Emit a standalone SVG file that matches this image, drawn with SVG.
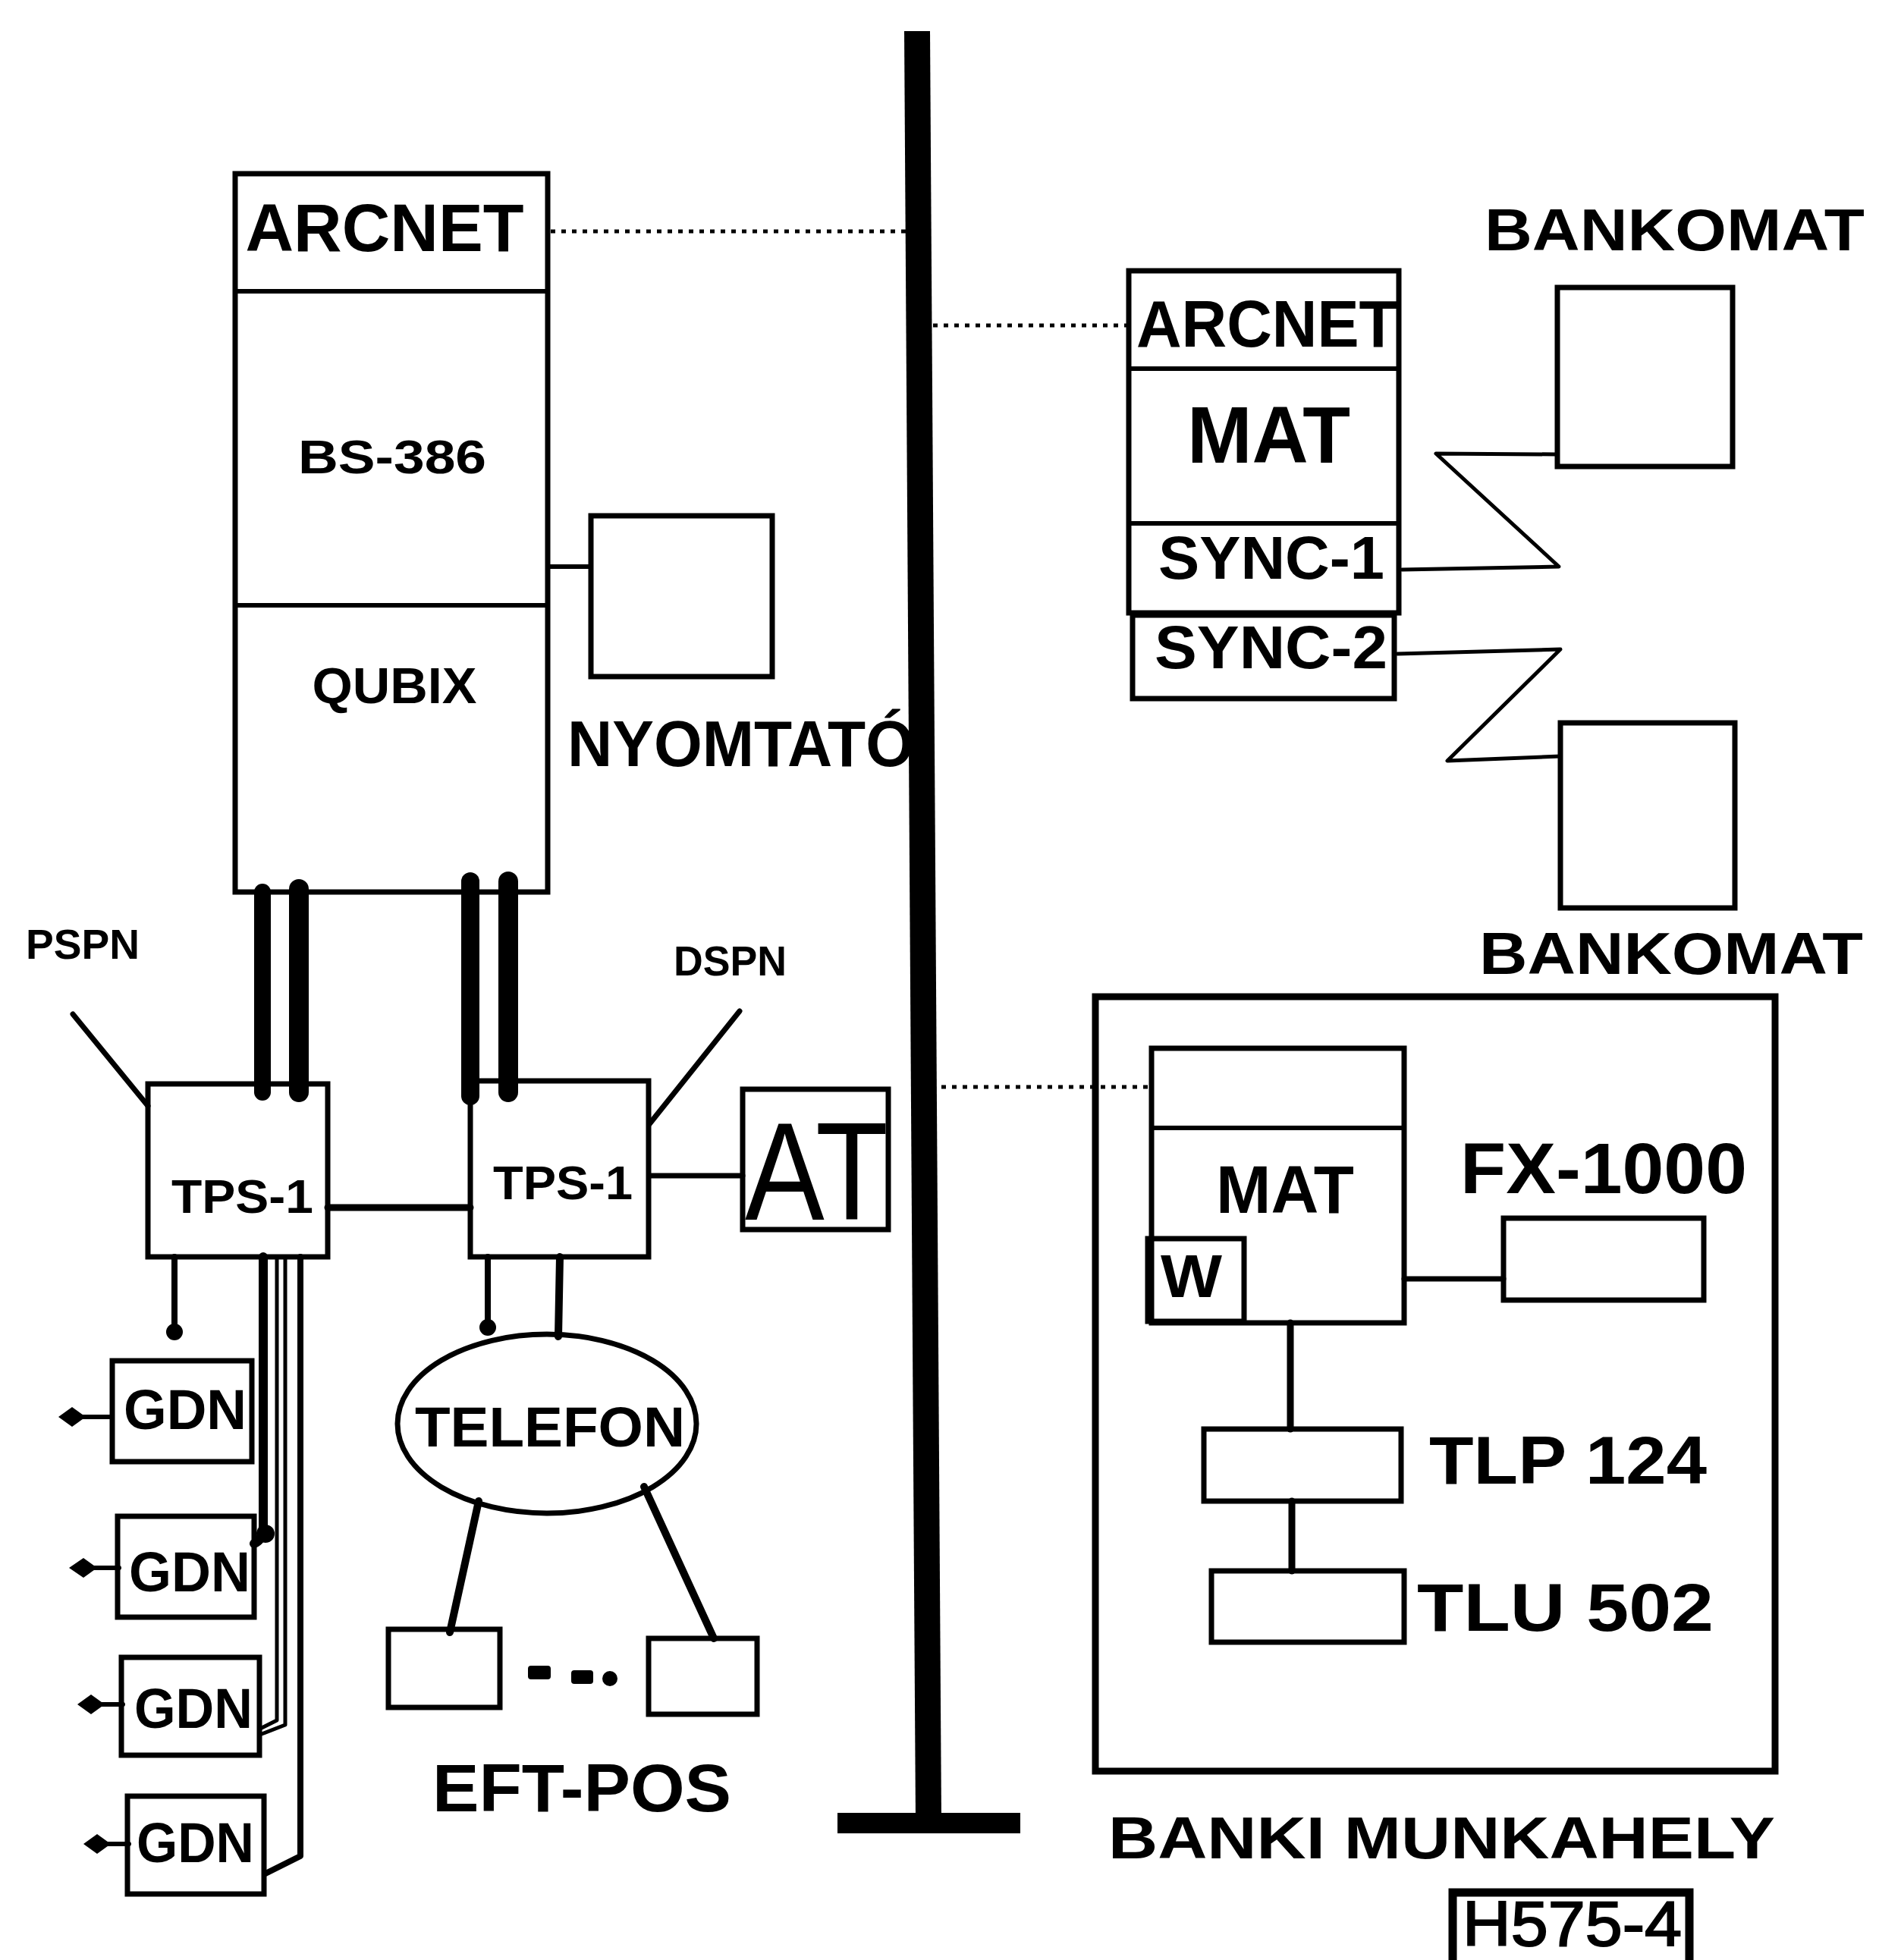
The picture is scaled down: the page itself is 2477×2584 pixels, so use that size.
<svg xmlns="http://www.w3.org/2000/svg" width="2477" height="2584" viewBox="0 0 2477 2584">
<style>
.box{fill:none;stroke:#000;stroke-width:7;stroke-linejoin:miter}
.ln{fill:none;stroke:#000;stroke-width:6;stroke-linecap:round;stroke-linejoin:round}
.dot{fill:none;stroke:#000;stroke-width:5;stroke-dasharray:6 8}
.t{font-family:"Liberation Sans",Arial,sans-serif;font-weight:bold;fill:#000}
.tr{font-family:"Liberation Sans",Arial,sans-serif;font-weight:normal;fill:#000}
.blob{fill:#000}
</style>
<rect width="2477" height="2584" fill="#fff"/>

<g id="connectors">
  <polygon points="1192,41 1226,41 1241,2400 1207,2400" fill="#000"/>
  <rect x="1104" y="2390" width="241" height="27" fill="#000"/>
  <line class="dot" x1="726" y1="305" x2="1195" y2="305"/>
  <line class="dot" x1="1230" y1="429" x2="1486" y2="429"/>
  <line class="dot" x1="1241" y1="1433" x2="1514" y2="1433"/>
  <line class="ln" x1="722" y1="747" x2="779" y2="747"/>
  <line class="ln" x1="346" y1="1176" x2="346" y2="1440" style="stroke-width:22"/>
  <line class="ln" x1="394" y1="1172" x2="394" y2="1440" style="stroke-width:26"/>
  <line class="ln" x1="620" y1="1162" x2="620" y2="1445" style="stroke-width:24"/>
  <line class="ln" x1="670" y1="1162" x2="670" y2="1440" style="stroke-width:26"/>
  <line class="ln" x1="96" y1="1337" x2="195" y2="1458" style="stroke-width:7"/>
  <line class="ln" x1="975" y1="1333" x2="856" y2="1482" style="stroke-width:7"/>
  <line class="ln" x1="432" y1="1592" x2="620" y2="1592" style="stroke-width:9"/>
  <line class="ln" x1="858" y1="1550" x2="979" y2="1550" style="stroke-width:7"/>
  <line class="ln" x1="230" y1="1657" x2="230" y2="1752" style="stroke-width:8"/>
  <circle class="blob" cx="230" cy="1756" r="11"/>
  <path class="ln" d="M347,1657 L347,2012 Q347,2030 335,2035" style="stroke-width:12"/>
  <circle class="blob" cx="350" cy="2022" r="12"/>
  <path class="ln" d="M365,1657 L365,2268 L343,2279" style="stroke-width:5"/>
  <path class="ln" d="M376,1657 L376,2274 L345,2286" style="stroke-width:5"/>
  <path class="ln" d="M396,1657 L396,2447 L350,2470" style="stroke-width:8"/>
  <line class="ln" x1="108" y1="1868" x2="148" y2="1868" style="stroke-width:6"/>
  <path class="blob" d="M77,1868 L95,1855 L113,1868 L95,1881 Z"/>
  <line class="ln" x1="122" y1="2067" x2="157" y2="2067" style="stroke-width:6"/>
  <path class="blob" d="M91,2067 L110,2054 L128,2067 L110,2080 Z"/>
  <line class="ln" x1="130" y1="2247" x2="162" y2="2247" style="stroke-width:6"/>
  <path class="blob" d="M102,2247 L120,2234 L138,2247 L120,2260 Z"/>
  <line class="ln" x1="140" y1="2431" x2="170" y2="2431" style="stroke-width:6"/>
  <path class="blob" d="M110,2431 L128,2418 L146,2431 L128,2444 Z"/>
  <line class="ln" x1="643" y1="1657" x2="643" y2="1745" style="stroke-width:8"/>
  <circle class="blob" cx="643" cy="1750" r="11"/>
  <line class="ln" x1="738" y1="1657" x2="736" y2="1762" style="stroke-width:10"/>
  <line class="ln" x1="631" y1="1979" x2="593" y2="2152" style="stroke-width:10"/>
  <line class="ln" x1="849" y1="1960" x2="941" y2="2160" style="stroke-width:10"/>
  <path class="ln" d="M1848,751 L2055,747 L1893,598 L2053,599" style="stroke-width:5"/>
  <path class="ln" d="M1842,862 L2057,856 L1908,1003 L2057,997" style="stroke-width:5"/>
  <line class="ln" x1="1851" y1="1686" x2="1982" y2="1686" style="stroke-width:7"/>
  <line class="ln" x1="1701" y1="1744" x2="1701" y2="1884" style="stroke-width:9"/>
  <line class="ln" x1="1703" y1="1979" x2="1703" y2="2071" style="stroke-width:9"/>
</g>

<g id="server">
  <rect class="box" x="310" y="229" width="412" height="947"/>
  <line class="ln" x1="310" y1="384" x2="722" y2="384"/>
  <line class="ln" x1="310" y1="798" x2="722" y2="798"/>
  <text class="t" x="507" y="331" font-size="89" text-anchor="middle" textLength="367" lengthAdjust="spacingAndGlyphs">ARCNET</text>
  <text class="t" x="517" y="624" font-size="63" text-anchor="middle" textLength="248" lengthAdjust="spacingAndGlyphs">BS-386</text>
  <text class="t" x="520" y="927" font-size="67" text-anchor="middle" textLength="217" lengthAdjust="spacingAndGlyphs">QUBIX</text>
</g>

<g id="printer">
  <rect class="box" x="779" y="680" width="239" height="212"/>
  <text class="t" x="748" y="1010" font-size="85" textLength="457" lengthAdjust="spacingAndGlyphs">NYOMTATÓ</text>
</g>

<g id="pspn">
  <text class="t" x="34" y="1264" font-size="56" textLength="150" lengthAdjust="spacingAndGlyphs">PSPN</text>
</g>
<g id="dspn">
  <text class="t" x="888" y="1286" font-size="56" textLength="149" lengthAdjust="spacingAndGlyphs">DSPN</text>
</g>

<g id="tps1-left">
  <rect class="box" x="195" y="1429" width="237" height="228"/>
  <text class="t" x="226" y="1599" font-size="63" textLength="187" lengthAdjust="spacingAndGlyphs">TPS-1</text>
</g>
<g id="tps1-right">
  <rect class="box" x="620" y="1425" width="235" height="232"/>
  <text class="t" x="650" y="1581" font-size="63" textLength="184" lengthAdjust="spacingAndGlyphs">TPS-1</text>
</g>
<g id="at">
  <rect class="box" x="979" y="1436" width="192" height="185"/>
  <text class="tr" x="982" y="1608" font-size="184" textLength="189" lengthAdjust="spacingAndGlyphs">AT</text>
</g>

<g id="gdn1">
  <rect class="box" x="148" y="1794" width="184" height="133"/>
  <text class="t" x="163" y="1884" font-size="74" textLength="162" lengthAdjust="spacingAndGlyphs">GDN</text>
</g>
<g id="gdn2">
  <rect class="box" x="155" y="1999" width="180" height="133"/>
  <text class="t" x="170" y="2098" font-size="74" textLength="160" lengthAdjust="spacingAndGlyphs">GDN</text>
</g>
<g id="gdn3">
  <rect class="box" x="160" y="2185" width="182" height="129"/>
  <text class="t" x="177" y="2278" font-size="74" textLength="156" lengthAdjust="spacingAndGlyphs">GDN</text>
</g>
<g id="gdn4">
  <rect class="box" x="168" y="2368" width="180" height="129"/>
  <text class="t" x="180" y="2455" font-size="74" textLength="155" lengthAdjust="spacingAndGlyphs">GDN</text>
</g>

<g id="telefon">
  <ellipse class="box" cx="721" cy="1877" rx="197" ry="118"/>
  <text class="t" x="547" y="1907" font-size="74" textLength="356" lengthAdjust="spacingAndGlyphs">TELEFON</text>
</g>

<g id="eft-pos">
  <rect class="box" x="512" y="2148" width="147" height="103"/>
  <rect class="box" x="855" y="2160" width="143" height="100"/>
  <rect class="blob" x="696" y="2196" width="30" height="18" rx="4"/>
  <rect class="blob" x="753" y="2202" width="29" height="18" rx="4"/>
  <circle class="blob" cx="804" cy="2213" r="10"/>
  <text class="t" x="570" y="2388" font-size="89" textLength="394" lengthAdjust="spacingAndGlyphs">EFT-POS</text>
</g>

<g id="mat-atm-server">
  <rect class="box" x="1488" y="357" width="356" height="451"/>
  <line class="ln" x1="1488" y1="486" x2="1844" y2="486"/>
  <line class="ln" x1="1488" y1="690" x2="1844" y2="690"/>
  <text class="t" x="1498" y="457" font-size="87" textLength="344" lengthAdjust="spacingAndGlyphs">ARCNET</text>
  <text class="t" x="1565" y="610" font-size="106" textLength="215" lengthAdjust="spacingAndGlyphs">MAT</text>
  <text class="t" x="1527" y="763" font-size="80" textLength="298" lengthAdjust="spacingAndGlyphs">SYNC-1</text>
</g>
<g id="sync2">
  <rect class="box" x="1493" y="811" width="345" height="110"/>
  <text class="t" x="1522" y="881" font-size="80" textLength="307" lengthAdjust="spacingAndGlyphs">SYNC-2</text>
</g>

<g id="bankomat1">
  <text class="t" x="1957" y="330" font-size="77" textLength="501" lengthAdjust="spacingAndGlyphs">BANKOMAT</text>
  <rect class="box" x="2053" y="379" width="231" height="236"/>
</g>
<g id="bankomat2">
  <rect class="box" x="2057" y="953" width="230" height="244"/>
  <text class="t" x="1950" y="1284" font-size="77" textLength="506" lengthAdjust="spacingAndGlyphs">BANKOMAT</text>
</g>

<g id="banki-munkahely">
  <rect class="box" x="1444" y="1314" width="896" height="1021" style="stroke-width:9"/>
  <text class="t" x="1461" y="2450" font-size="77" textLength="879" lengthAdjust="spacingAndGlyphs">BANKI MUNKAHELY</text>
</g>
<g id="mat-workstation">
  <rect class="box" x="1518" y="1382" width="333" height="362"/>
  <line class="ln" x1="1518" y1="1487" x2="1851" y2="1487"/>
  <text class="t" x="1603" y="1599" font-size="89" textLength="182" lengthAdjust="spacingAndGlyphs">MAT</text>
  <rect class="box" x="1513" y="1633" width="127" height="109"/>
  <text class="t" x="1530" y="1710" font-size="80" textLength="81" lengthAdjust="spacingAndGlyphs">W</text>
</g>
<g id="fx1000">
  <text class="t" x="1925" y="1573" font-size="95" textLength="378" lengthAdjust="spacingAndGlyphs">FX-1000</text>
  <rect class="box" x="1982" y="1606" width="264" height="108"/>
</g>
<g id="tlp124">
  <rect class="box" x="1587" y="1884" width="260" height="95"/>
  <text class="t" x="1884" y="1956" font-size="89" textLength="366" lengthAdjust="spacingAndGlyphs">TLP 124</text>
</g>
<g id="tlu502">
  <rect class="box" x="1597" y="2071" width="254" height="94"/>
  <text class="t" x="1868" y="2150" font-size="89" textLength="391" lengthAdjust="spacingAndGlyphs">TLU 502</text>
</g>

<g id="figure-id">
  <rect class="box" x="1915" y="2495" width="312" height="110" style="stroke-width:11"/>
  <text class="tr" x="1928" y="2565" font-size="84" textLength="289" lengthAdjust="spacingAndGlyphs" style="stroke:#000;stroke-width:2">H575-4</text>
</g>
</svg>
